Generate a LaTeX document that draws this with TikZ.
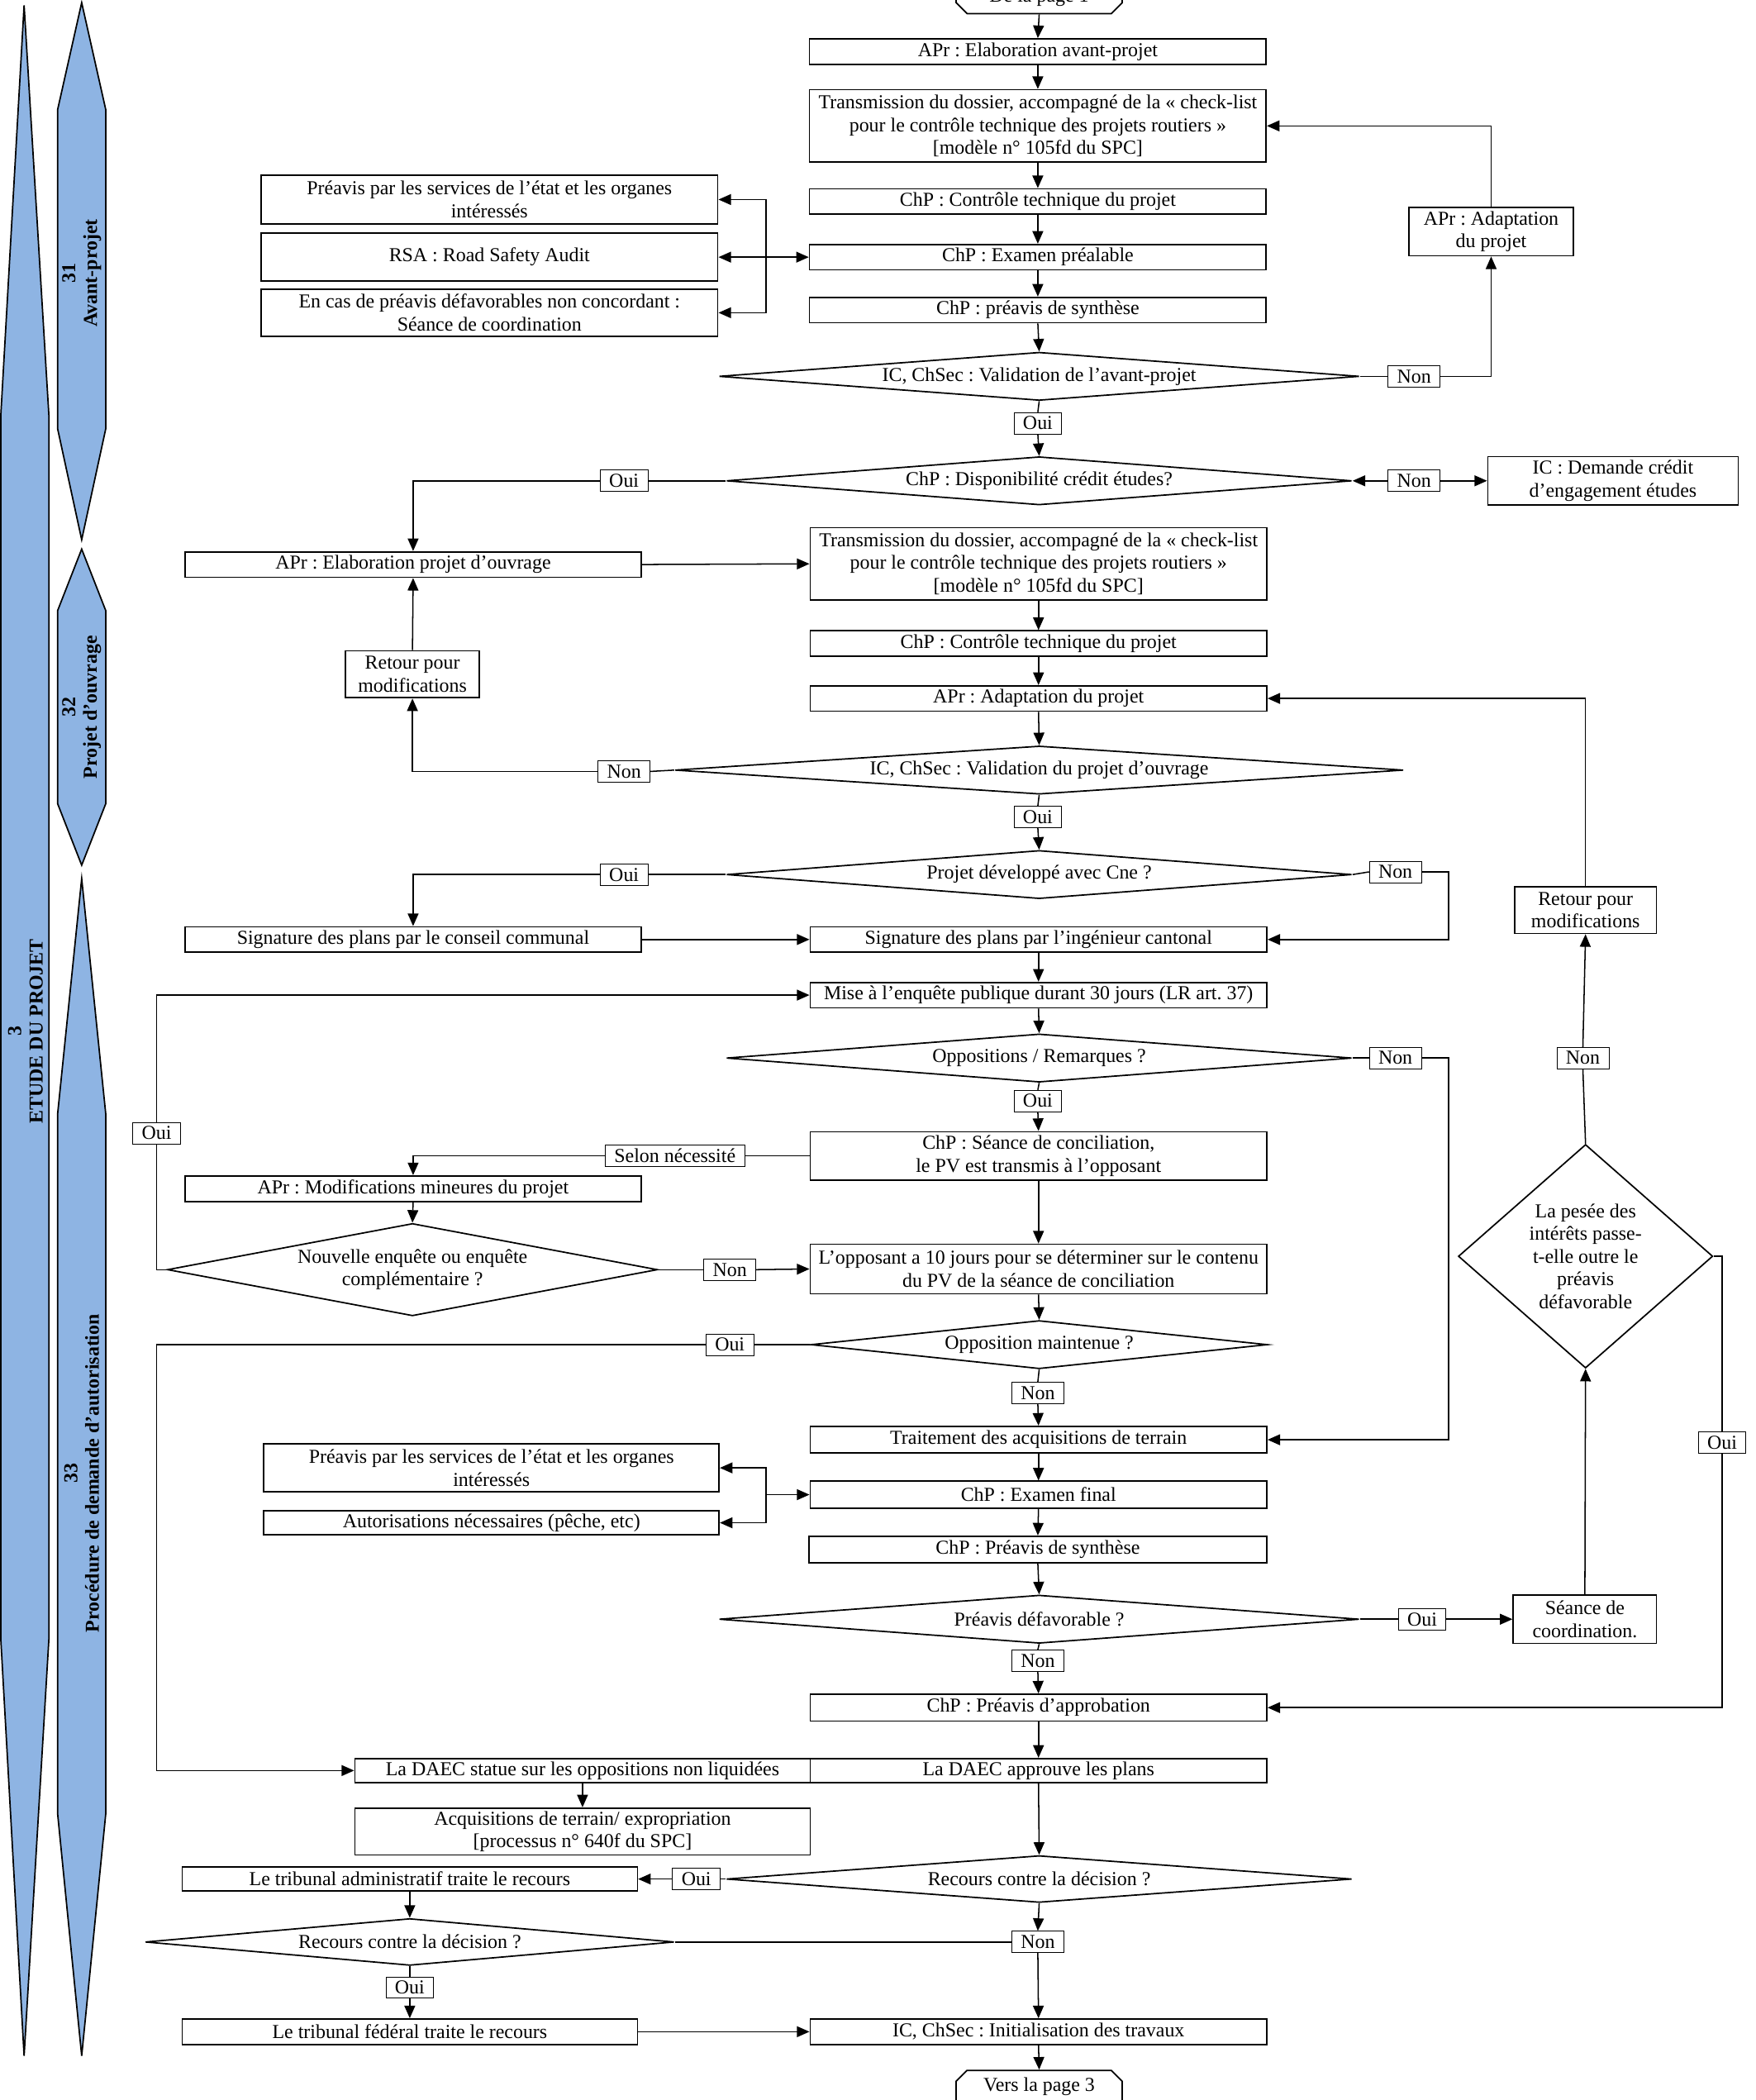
\documentclass[tikz,border=0pt]{standalone}
\usepackage{fontspec}
\setmainfont{Liberation Serif}
\usetikzlibrary{shapes.geometric,shapes.misc,arrows.meta}
\definecolor{barblue}{RGB}{142,180,227}
\frenchspacing

\begin{document}
\begin{tikzpicture}[x=0.0262cm,y=-0.0262cm,
    font=\fontsize{11}{12.7}\selectfont,
    bx/.style 2 args={draw,line width=0.8pt,align=center,inner sep=1pt,minimum width=#1*0.0262cm,minimum height=#2*0.0262cm},
    dm/.style n args={3}{diamond,draw,line width=0.8pt,align=center,inner sep=0pt,aspect=#3,minimum width=#1*0.0262cm,minimum height=#2*0.0262cm},
    lbl/.style={draw,fill=white,line width=0.4pt,inner xsep=5pt,inner ysep=0pt,minimum height=16*0.0262cm},
    term/.style={chamfered rectangle,draw,line width=0.8pt,minimum width=124*0.0262cm,minimum height=20*0.0262cm,chamfered rectangle xsep=3pt,inner ysep=1pt},
    bar/.style={draw,line width=0.8pt,fill=barblue},
    barlbl/.style={rotate=90,align=center,font=\fontsize{11}{12}\selectfont\bfseries},
    arr/.style={-{Triangle[length=7pt,width=6pt]},line width=0.7pt},
    dbl/.style={{Triangle[length=7pt,width=6pt]}-{Triangle[length=7pt,width=6pt]},line width=0.7pt},
    ln/.style={line width=0.7pt}]

            \useasboundingbox (0,0) rectangle (1310.7,1568);

            %phases
            \draw[bar] (18,4) -- (36.5,310) -- (36.5,1224) -- (18,1535) -- (0.6,1224) -- (0.6,310) -- cycle;
            \draw[bar] (61,2) -- (79,82) -- (79,320) -- (61,403) -- (43,320) -- (43,82) -- cycle;
            \draw[bar] (61,410) -- (79,456) -- (79,600) -- (61,646) -- (43,600) -- (43,456) -- cycle;
            \draw[bar] (61,656) -- (79,832) -- (79,1354) -- (61,1535) -- (43,1354) -- (43,832) -- cycle;

            \node[barlbl] (s3) at (19,770) {3\\ETUDE DU PROJET};
            \node[barlbl] (s31) at (61,204) {31\\Avant-projet};
            \node[barlbl] (s32) at (61,528) {32\\Projet d’ouvrage};
            \node[barlbl] (s33) at (61,1100) {33\\Procédure de demande d’autorisation};

            %avant-projet
            \node[term,chamfered rectangle corners={south west,south east}] (p1) at (776,-2) {De la page 1};
            \node[bx={341}{19}] (avp) at (775,38.5) {APr : Elaboration avant-projet};
            \node[bx={341}{54}] (tr1) at (775,94) {Transmission du dossier, accompagné de la « check-list\\pour le contrôle technique des projets routiers »\\{[}modèle n° 105fd du SPC]};
            \node[bx={341}{19}] (ct1) at (775,150.5) {ChP : Contrôle technique du projet};
            \node[bx={341}{19}] (ex1) at (775,192) {ChP : Examen préalable};
            \node[bx={341}{19}] (ps1) at (775,231.5) {ChP : préavis de synthèse};
            \node[dm={478}{36}{13.3}] (d1) at (776,281) {IC, ChSec : Validation de l’avant-projet};
            \node[lbl] (l1oui) at (775,316) {Oui};
            \node[lbl] (l1non) at (1056,281) {Non};
            \node[bx={123}{36}] (adp1) at (1113.5,173) {APr : Adaptation\\du projet};
            \node[dm={467}{36}{13}] (d2) at (776,359) {ChP : Disponibilité crédit études?};
            \node[lbl] (l2non) at (1056,359) {Non};
            \node[lbl] (l2oui) at (466,359) {Oui};
            \node[bx={187}{36}] (dce) at (1204.5,359) {IC : Demande crédit\\d’engagement études};
            \node[bx={341}{36}] (pre1) at (365.5,149) {Préavis par les services de l’état et les organes\\intéressés};
            \node[bx={341}{36}] (rsa) at (365.5,192) {RSA : Road Safety Audit};
            \node[bx={341}{35}] (cas) at (365.5,233.5) {En cas de préavis défavorables non concordant :\\Séance de coordination};
            \coordinate (j1) at (572,192);

            %projet d'ouvrage
            \node[bx={341}{19}] (epo) at (308.5,421.5) {APr : Elaboration projet d’ouvrage};
            \node[bx={341}{54}] (tr2) at (775.5,421) {Transmission du dossier, accompagné de la « check-list\\pour le contrôle technique des projets routiers »\\{[}modèle n° 105fd du SPC]};
            \node[bx={341}{19}] (ct2) at (775.5,480.5) {ChP : Contrôle technique du projet};
            \node[bx={341}{19}] (adp2) at (775.5,521.5) {APr : Adaptation du projet};
            \node[dm={544}{36}{15}] (d3) at (776,575) {IC, ChSec : Validation du projet d’ouvrage};
            \node[lbl] (l3non) at (466,576) {Non};
            \node[bx={100}{35}] (ret1) at (308,503.5) {Retour pour\\modifications};
            \node[lbl] (l3oui) at (775,610) {Oui};
            \node[dm={467}{36}{13}] (d4) at (776,653) {Projet développé avec Cne ?};
            \node[lbl] (l4oui) at (466,653) {Oui};
            \node[lbl] (l4non) at (1042,651) {Non};
            \node[bx={341}{19}] (scc) at (308.5,701.5) {Signature des plans par le conseil communal};
            \node[bx={341}{19}] (sic) at (775.5,701.5) {Signature des plans par l’ingénieur cantonal};

            %autorisation
            \node[bx={341}{19}] (enq) at (775.5,743) {Mise à l’enquête publique durant 30 jours (LR art. 37)};
            \node[dm={467}{36}{13}] (d5) at (776,790) {Oppositions / Remarques ?};
            \node[lbl] (l5non) at (1042,790) {Non};
            \node[lbl] (l5oui) at (775,822) {Oui};
            \node[bx={341}{36}] (conc) at (775.5,863) {ChP : Séance de conciliation,\\le PV est transmis à l’opposant};
            \node[lbl] (lsel) at (504,863) {Selon nécessité};
            \node[bx={341}{19}] (modm) at (308.5,887.5) {APr : Modifications mineures du projet};
            \node[dm={366}{69}{5.3}] (d6) at (308,948) {Nouvelle enquête ou enquête\\complémentaire ?};
            \node[lbl] (l6non) at (545,948) {Non};
            \node[lbl] (l6oui) at (117,846) {Oui};
            \node[bx={341}{37}] (opp) at (775.5,947.5) {L’opposant a 10 jours pour se déterminer sur le contenu\\du PV de la séance de conciliation};
            \node[dm={341}{36}{9.5}] (d7) at (776,1004) {Opposition maintenue ?};
            \node[lbl] (l7oui) at (545,1004) {Oui};
            \node[lbl] (l7non) at (775,1040) {Non};
            \node[bx={341}{20}] (trt) at (775.5,1075) {Traitement des acquisitions de terrain};
            \node[bx={341}{20}] (exf) at (775.5,1116) {ChP : Examen final};
            \node[bx={340}{36}] (pre2) at (367,1096) {Préavis par les services de l’état et les organes\\intéressés};
            \node[bx={340}{18}] (aut) at (367,1137) {Autorisations nécessaires (pêche, etc)};
            \coordinate (j2) at (572,1116);
            \node[bx={342}{20}] (ps2) at (775,1157) {ChP : Préavis de synthèse};
            \node[dm={478}{36}{13.3}] (d8) at (776,1209) {Préavis défavorable ?};
            \node[lbl] (l8oui) at (1062,1209) {Oui};
            \node[lbl] (l8non) at (775,1240) {Non};
            \node[bx={107}{36}] (seco) at (1183.5,1209) {Séance de\\coordination.};
            \node[dm={190}{167}{1.14}] (d9) at (1184,938) {La pesée des\\intérêts passe-\\t-elle outre le\\préavis\\défavorable};
            \node[lbl] (l9non) at (1182,790) {Non};
            \node[bx={106}{35}] (ret2) at (1184,679.5) {Retour pour\\modifications};
            \node[lbl] (l9oui) at (1286,1077) {Oui};
            \node[bx={341}{20}] (papp) at (775.5,1275) {ChP : Préavis d’approbation};
            \node[bx={341}{18}] (daap) at (775.5,1322) {La DAEC approuve les plans};
            \node[bx={340}{18}] (dast) at (435,1322) {La DAEC statue sur les oppositions non liquidées};
            \node[bx={340}{35}] (acq) at (435,1367.5) {Acquisitions de terrain/ expropriation\\{[}processus n° 640f du SPC]};
            \node[dm={467}{35}{13.3}] (d10) at (776,1403) {Recours contre la décision ?};
            \node[lbl] (l10oui) at (520,1403) {Oui};
            \node[bx={340}{18}] (tadm) at (306,1403) {Le tribunal administratif traite le recours};
            \node[dm={395}{35}{11.3}] (d11) at (306,1450) {Recours contre la décision ?};
            \node[lbl] (l10non) at (775,1450) {Non};
            \node[lbl] (l11oui) at (306,1484) {Oui};
            \node[bx={340}{19}] (tfed) at (306,1517) {Le tribunal fédéral traite le recours};
            \node[bx={341}{19}] (init) at (775.5,1517) {IC, ChSec : Initialisation des travaux};
            \node[term,chamfered rectangle corners={north west,north east}] (p3) at (776,1558) {Vers la page 3};

            %links avant-projet
            \draw[arr] (p1.south) -- (avp.north);
            \draw[arr] (avp.south) -- (tr1.north);
            \draw[arr] (tr1.south) -- (ct1.north);
            \draw[arr] (ct1.south) -- (ex1.north);
            \draw[arr] (ex1.south) -- (ps1.north);
            \draw[arr] (ps1.south) -- (d1.north);
            \draw[ln] (d1.south) -- (l1oui.north);
            \draw[arr] (l1oui.south) -- (d2.north);
            \draw[ln] (d1.east) -- (l1non.west);
            \draw[arr] (l1non.east) -| (adp1.south);
            \draw[arr] (adp1.north) |- (tr1.east);
            \draw[arr] (l2non.west) -- (d2.east);
            \draw[arr] (l2non.east) -- (dce.west);
            \draw[ln] (d2.west) -- (l2oui.east);
            \draw[arr] (l2oui.west) -| (epo.north);
            \draw[dbl] (rsa.east) -- (ex1.west);
            \draw[arr] (j1) |- (pre1.east);
            \draw[arr] (j1) |- (cas.east);

            %links projet d'ouvrage
            \draw[arr] (epo.east) -- (tr2.west);
            \draw[arr] (tr2.south) -- (ct2.north);
            \draw[arr] (ct2.south) -- (adp2.north);
            \draw[arr] (adp2.south) -- (d3.north);
            \draw[ln] (d3.west) -- (l3non.east);
            \draw[arr] (l3non.west) -| (ret1.south);
            \draw[arr] (ret1.north) -- (epo.south);
            \draw[ln] (d3.south) -- (l3oui.north);
            \draw[arr] (l3oui.south) -- (d4.north);
            \draw[ln] (d4.west) -- (l4oui.east);
            \draw[arr] (l4oui.west) -| (scc.north);
            \draw[ln] (d4.east) -- (l4non.west);
            \draw[arr] (l4non.east) -- ++(20,0) |- (sic.east);
            \draw[arr] (scc.east) -- (sic.west);

            %links autorisation
            \draw[arr] (sic.south) -- (enq.north);
            \draw[arr] (enq.south) -- (d5.north);
            \draw[ln] (d5.east) -- (l5non.west);
            \draw[arr] (l5non.east) -- ++(20,0) |- (trt.east);
            \draw[ln] (d5.south) -- (l5oui.north);
            \draw[arr] (l5oui.south) -- (conc.north);
            \draw[ln] (conc.west) -- (lsel.east);
            \draw[arr] (lsel.west) -| (modm.north);
            \draw[arr] (modm.south) -- (d6.north);
            \draw[ln] (d6.east) -- (l6non.west);
            \draw[arr] (l6non.east) -- (opp.west);
            \draw[ln] (d6.west) -| (l6oui.south);
            \draw[arr] (l6oui.north) |- (enq.west);
            \draw[arr] (conc.south) -- (opp.north);
            \draw[arr] (opp.south) -- (d7.north);
            \draw[ln] (d7.west) -- (l7oui.east);
            \draw[arr] (l7oui.west) -| (l6oui |- dast.west) -- (dast.west);
            \draw[ln] (d7.south) -- (l7non.north);
            \draw[arr] (l7non.south) -- (trt.north);
            \draw[arr] (trt.south) -- (exf.north);
            \draw[arr] (j2) -- (exf.west);
            \draw[arr] (j2) |- (pre2.east);
            \draw[arr] (j2) |- (aut.east);
            \draw[arr] (exf.south) -- (ps2.north);
            \draw[arr] (ps2.south) -- (d8.north);
            \draw[ln] (d8.east) -- (l8oui.west);
            \draw[arr] (l8oui.east) -- (seco.west);
            \draw[arr] (seco.north) -- (d9.south);
            \draw[ln] (d9.north) -- (l9non.south);
            \draw[arr] (l9non.north) -- (ret2.south);
            \draw[arr] (ret2.north) |- (adp2.east);
            \draw[ln] (d9.east) -| (l9oui.north);
            \draw[arr] (l9oui.south) |- (papp.east);
            \draw[ln] (d8.south) -- (l8non.north);
            \draw[arr] (l8non.south) -- (papp.north);
            \draw[arr] (papp.south) -- (daap.north);
            \draw[arr] (dast.south) -- (acq.north);
            \draw[arr] (daap.south) -- (d10.north);
            \draw[ln] (d10.west) -- (l10oui.east);
            \draw[arr] (l10oui.west) -- (tadm.east);
            \draw[arr] (tadm.south) -- (d11.north);
            \draw[arr] (d10.south) -- (l10non.north);
            \draw[ln] (d11.east) -- (l10non.west);
            \draw[arr] (l10non.south) -- (init.north);
            \draw[ln] (d11.south) -- (l11oui.north);
            \draw[arr] (l11oui.south) -- (tfed.north);
            \draw[arr] (tfed.east) -- (init.west);
            \draw[arr] (init.south) -- (p3.north);
        \end{tikzpicture}
\end{document}
